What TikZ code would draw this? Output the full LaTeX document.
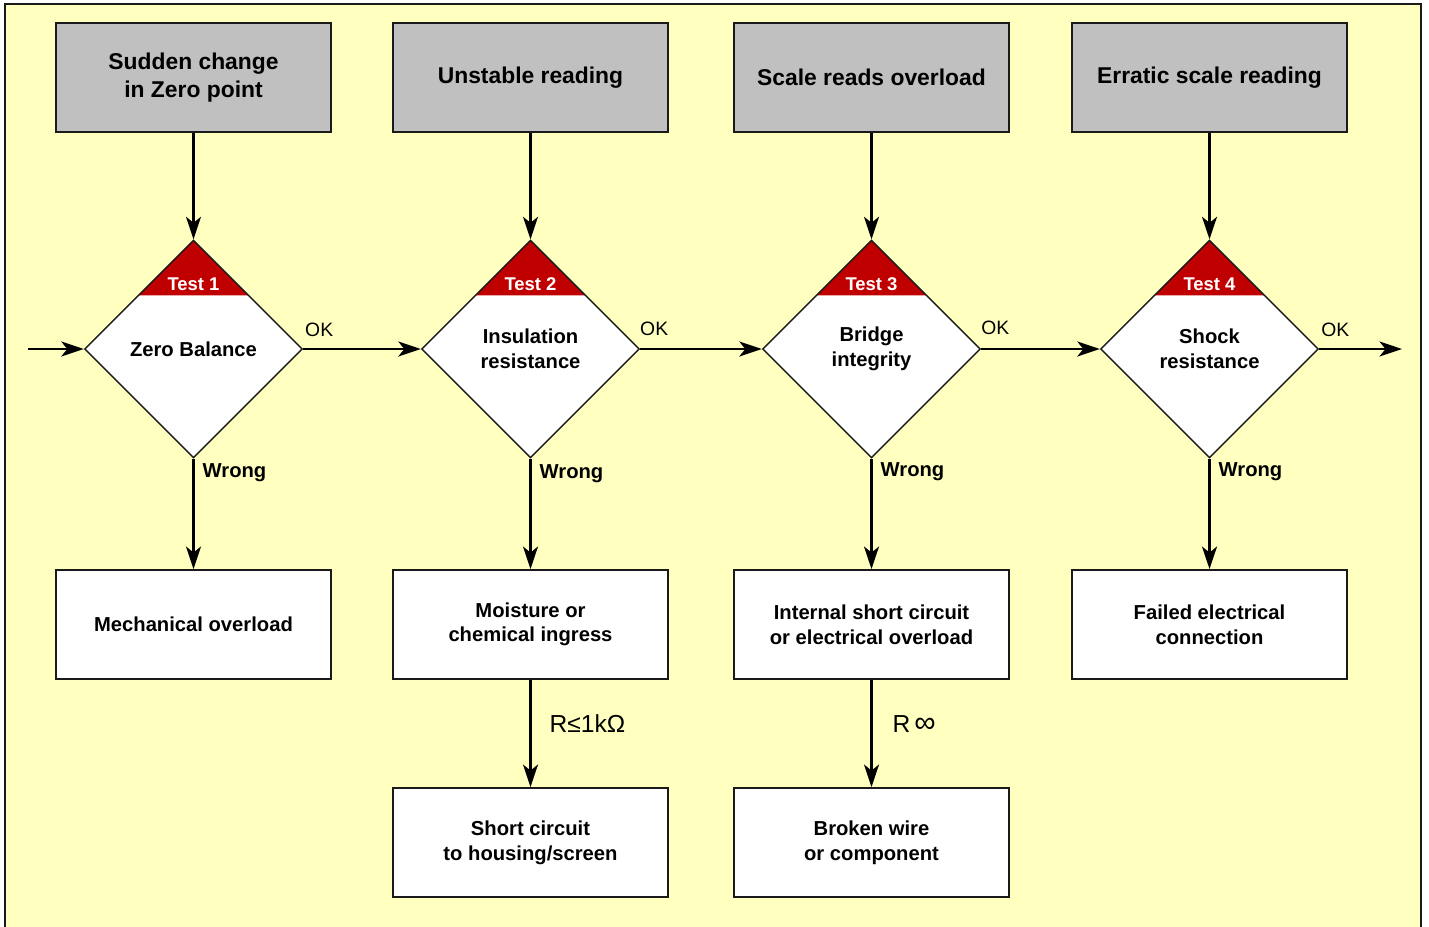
\documentclass[tikz,border=0pt]{standalone}
\usepackage{fontspec}
\setmainfont{Liberation Sans}
\usetikzlibrary{positioning,shapes.geometric,arrows.meta}
\definecolor{Canvas}{HTML}{FFFFC0}
\definecolor{SymptomGrey}{HTML}{C0C0C0}
\definecolor{TestRed}{HTML}{C00000}
\definecolor{FrameLine}{HTML}{1A1A1A}

\begin{document}
\begin{tikzpicture}[
    symptombox/.style={rectangle, draw=FrameLine, fill=SymptomGrey, line width=1.1pt, minimum width=5.5cm, minimum height=2.18cm, align=center, font=\fontsize{13}{16}\selectfont\bfseries},
    causebox/.style={rectangle, draw=FrameLine, fill=white, line width=1.1pt, minimum width=5.5cm, minimum height=2.18cm, align=center, font=\fontsize{11.5}{14}\selectfont\bfseries},
    testdiamond/.style={diamond, aspect=1, draw=FrameLine, fill=white, line width=0.8pt, minimum width=4.36cm, minimum height=4.36cm, inner sep=0pt, align=center, font=\fontsize{11.5}{14}\selectfont\bfseries,
        path picture={\fill[TestRed] (path picture bounding box.north) -- ++(-1.1,-1.1) -- ++(2.2,0) -- cycle;}},
    testlabel/.style={font=\fontsize{10.5}{12}\selectfont\bfseries, text=white},
    oklabel/.style={font=\fontsize{11}{13}\selectfont},
    wronglabel/.style={anchor=west, font=\fontsize{11.5}{14}\selectfont\bfseries},
    rlabel/.style={anchor=west, font=\fontsize{14}{16}\selectfont},
    flow/.style={draw=black, line width=1.4pt, -{Stealth[length=0.45cm, width=0.3cm, inset=0.12cm]}}
]

\useasboundingbox (0,0) rectangle (28.58,-18.52);
\fill[white] (0,0) rectangle (28.58,-18.52);
\draw[draw=FrameLine, fill=Canvas, line width=1.1pt] (0.1,-0.08) rectangle (28.42,-18.8);

\node[symptombox] (s1) at (3.87,-1.55) {Sudden change\\in Zero point};
\node[symptombox] (s2) at (10.61,-1.55) {Unstable reading};
\node[symptombox] (s3) at (17.43,-1.55) {Scale reads overload};
\node[symptombox] (s4) at (24.19,-1.55) {Erratic scale reading};

\node[testdiamond] (d1) at (3.87,-6.98) {Zero Balance};
\node[testdiamond] (d2) at (10.61,-6.98) {Insulation\\resistance};
\node[testdiamond] (d3) at (17.43,-6.98) {Bridge\\integrity};
\node[testdiamond] (d4) at (24.19,-6.98) {Shock\\resistance};

\node[testlabel] (t1) at ([yshift=-0.9cm]d1.north) {Test 1};
\node[testlabel] (t2) at ([yshift=-0.9cm]d2.north) {Test 2};
\node[testlabel] (t3) at ([yshift=-0.9cm]d3.north) {Test 3};
\node[testlabel] (t4) at ([yshift=-0.9cm]d4.north) {Test 4};

\node[causebox] (c1) at (3.87,-12.49) {Mechanical overload};
\node[causebox] (c2) at (10.61,-12.49) {Moisture or\\chemical ingress};
\node[causebox] (c3) at (17.43,-12.49) {Internal short circuit\\or electrical overload};
\node[causebox] (c4) at (24.19,-12.49) {Failed electrical\\connection};

\node[causebox] (e2) at (10.61,-16.85) {Short circuit\\to housing/screen};
\node[causebox] (e3) at (17.43,-16.85) {Broken wire\\or component};

\coordinate (in) at (0.56,-6.98);
\coordinate (out) at (28.04,-6.98);

\draw[flow] (s1) -- (d1);
\draw[flow] (s2) -- (d2);
\draw[flow] (s3) -- (d3);
\draw[flow] (s4) -- (d4);

\draw[flow] (in) -- (d1);
\draw[flow] (d1) -- (d2);
\draw[flow] (d2) -- (d3);
\draw[flow] (d3) -- (d4);
\draw[flow] (d4) -- (out);

\draw[flow] (d1) -- (c1);
\draw[flow] (d2) -- (c2);
\draw[flow] (d3) -- (c3);
\draw[flow] (d4) -- (c4);

\draw[flow] (c2) -- node[rlabel, xshift=0.24cm, yshift=0.19cm] (r2) {R≤1kΩ} (e2);
\draw[flow] (c3) -- node[rlabel, xshift=0.28cm, yshift=0.19cm] (r3) {R\,{\fontsize{17}{16}\selectfont ∞}} (e3);

\node[oklabel] (ok1) at ([xshift=0.32cm,yshift=0.38cm]d1.east) {OK};
\node[oklabel] (ok2) at ([xshift=0.28cm,yshift=0.4cm]d2.east) {OK};
\node[oklabel] (ok3) at ([xshift=0.28cm,yshift=0.42cm]d3.east) {OK};
\node[oklabel] (ok4) at ([xshift=0.32cm,yshift=0.38cm]d4.east) {OK};

\node[wronglabel] (w1) at ([xshift=0.06cm,yshift=-0.28cm]d1.south) {Wrong};
\node[wronglabel] (w2) at ([xshift=0.06cm,yshift=-0.3cm]d2.south) {Wrong};
\node[wronglabel] (w3) at ([xshift=0.06cm,yshift=-0.26cm]d3.south) {Wrong};
\node[wronglabel] (w4) at ([xshift=0.06cm,yshift=-0.26cm]d4.south) {Wrong};

\end{tikzpicture}
\end{document}
